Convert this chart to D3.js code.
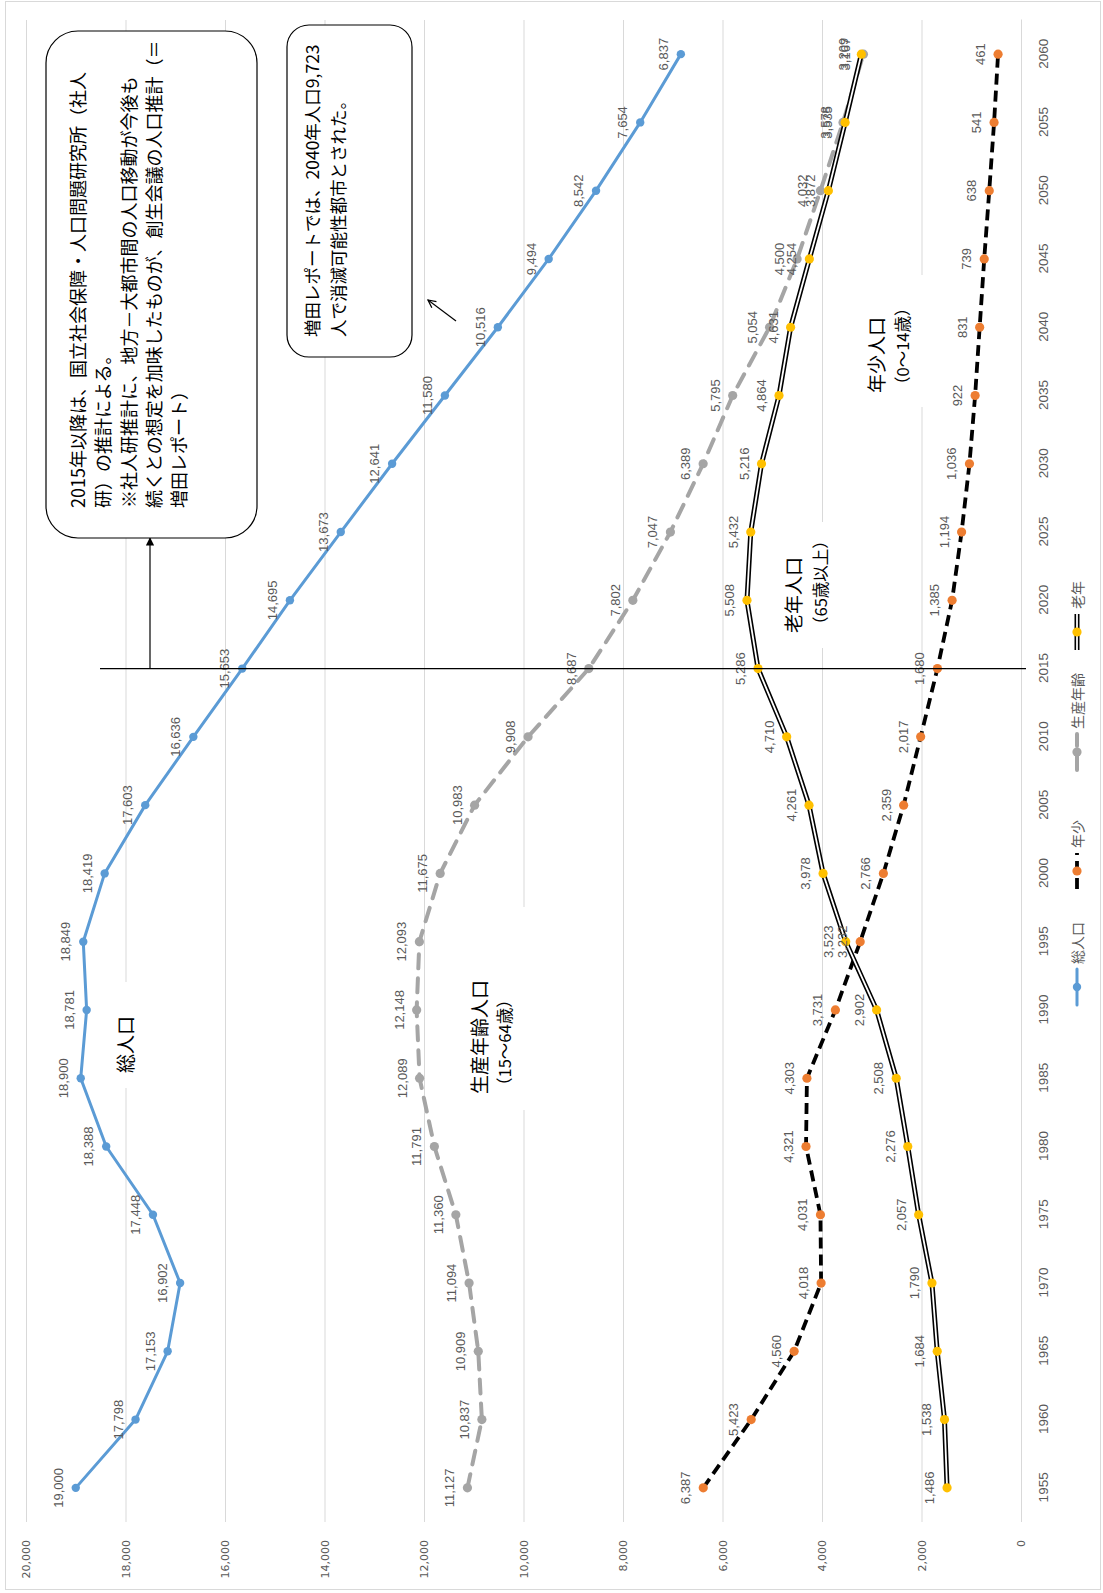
<!DOCTYPE html>
<html>
<head>
<meta charset="utf-8">
<script src="https://cdn.jsdelivr.net/npm/d3@7"></script>
<style>
  body { margin: 0; background: #fff; }
  svg { display: block; }
  .jp { font-family: "Noto Sans CJK JP", "Noto Sans", sans-serif; }
</style>
</head>
<body>
<svg id="chart" width="1103" height="1593"></svg>
<script>
// Population by age group (unit: persons), actual to 2010, projected from 2015
const years = [1955, 1960, 1965, 1970, 1975, 1980, 1985, 1990, 1995, 2000, 2005,
               2010, 2015, 2020, 2025, 2030, 2035, 2040, 2045, 2050, 2055, 2060];
const totalPop = [19000, 17798, 17153, 16902, 17448, 18388, 18900, 18781, 18849, 18419, 17603,
                  16636, 15653, 14695, 13673, 12641, 11580, 10516, 9494, 8542, 7654, 6837];
const youngPop = [6387, 5423, 4560, 4018, 4031, 4321, 4303, 3731, 3232, 2766, 2359,
                  2017, 1680, 1385, 1194, 1036, 922, 831, 739, 638, 541, 461];
const workingPop = [11127, 10837, 10909, 11094, 11360, 11791, 12089, 12148, 12093, 11675, 10983,
                    9908, 8687, 7802, 7047, 6389, 5795, 5054, 4500, 4032, 3578, 3167];
const elderlyPop = [1486, 1538, 1684, 1790, 2057, 2276, 2508, 2902, 3523, 3978, 4261,
                    4710, 5286, 5508, 5432, 5216, 4864, 4631, 4254, 3872, 3535, 3209];
const valueTicks = [0, 2000, 4000, 6000, 8000, 10000, 12000, 14000, 16000, 18000, 20000];
const seriesNames = ["総人口", "年少", "生産年齢", "老年"];

const svg = d3.select("#chart");

// chart frame
svg.append("rect")
  .attr("x", 5.5).attr("y", 1.5).attr("width", 1095).attr("height", 1588)
  .attr("fill", "#fff").attr("stroke", "#d9d9d9");

// The chart is laid out as an ordinary line chart and turned a quarter turn
const plotLen = 1502;   // along the year axis
const plotDepth = 995;  // along the value axis
const g = svg.append("g").attr("transform", "translate(26,1522) rotate(-90)");

const x = d3.scalePoint().domain(years).range([0, plotLen]).padding(0.5);
const y = d3.scaleLinear().domain([0, 20000]).range([plotDepth, 0]);
const fmt = d3.format(",");

// value gridlines + labels
const yAxis = g.append("g")
  .call(d3.axisLeft(y).tickValues(valueTicks).tickSize(-plotLen).tickPadding(18).tickFormat(fmt));
yAxis.select(".domain").remove();
yAxis.selectAll(".tick line").attr("stroke", "#d9d9d9").attr("stroke-width", 1);
yAxis.selectAll(".tick text")
  .attr("fill", "#595959")
  .style("font-family", "'DejaVu Sans', Verdana, sans-serif")
  .style("font-size", "11px");

// year axis
const xAxis = g.append("g").attr("transform", `translate(0,${plotDepth})`)
  .call(d3.axisBottom(x).tickSize(0).tickPadding(17));
xAxis.select(".domain").attr("stroke", "#d9d9d9");
xAxis.selectAll(".tick text")
  .attr("fill", "#595959")
  .style("font-family", "'Liberation Sans Narrow', 'Arial Narrow', 'Liberation Sans', sans-serif")
  .style("font-size", "13.5px");

// white text boxes for the group captions (hide gridlines behind them)
const captionBoxes = [
  { u0: 434, u1: 540, v0: 80, v1: 118 },
  { u0: 412, u1: 615, v0: 440, v1: 506 },
  { u0: 874, u1: 1000, v0: 744, v1: 810 },
  { u0: 1115, u1: 1247, v0: 835, v1: 905 }
];
g.selectAll("rect.capbox").data(captionBoxes).join("rect")
  .attr("class", "capbox")
  .attr("x", d => d.u0).attr("y", d => d.v0)
  .attr("width", d => d.u1 - d.u0).attr("height", d => d.v1 - d.v0)
  .attr("fill", "#fff");

// series
const series = [
  { name: seriesNames[0], values: totalPop, color: "#5B9BD5", kind: "solid", r: 4.2 },
  { name: seriesNames[1], values: youngPop, color: "#ED7D31", kind: "blackdash", r: 4.6 },
  { name: seriesNames[2], values: workingPop, color: "#A5A5A5", kind: "graydash", r: 4.6 },
  { name: seriesNames[3], values: elderlyPop, color: "#FFC000", kind: "double", r: 4.6 }
];

const line = d3.line().x((d, i) => x(years[i])).y(d => y(d));

function strokeLine(sel, kind, color) {
  if (kind === "solid") {
    sel.append("path").attr("fill", "none").attr("stroke", color).attr("stroke-width", 3)
      .attr("stroke-linejoin", "round").attr("stroke-linecap", "round");
  } else if (kind === "blackdash") {
    sel.append("path").attr("fill", "none").attr("stroke", "#000").attr("stroke-width", 3.8)
      .attr("stroke-dasharray", "11,6");
  } else if (kind === "graydash") {
    sel.append("path").attr("fill", "none").attr("stroke", color).attr("stroke-width", 4)
      .attr("stroke-dasharray", "14,10").attr("stroke-linecap", "round");
  } else {
    sel.append("path").attr("fill", "none").attr("stroke", "#000").attr("stroke-width", 5)
      .attr("stroke-linejoin", "round");
    sel.append("path").attr("fill", "none").attr("stroke", "#fff").attr("stroke-width", 1.8)
      .attr("stroke-linejoin", "round");
  }
}

series.forEach(s => {
  const sg = g.append("g");
  strokeLine(sg, s.kind, s.color);
  sg.selectAll("path").attr("d", line(s.values));
  sg.selectAll("circle").data(s.values).join("circle")
    .attr("cx", (d, i) => x(years[i])).attr("cy", d => y(d))
    .attr("r", s.r).attr("fill", s.color);
});

// data labels
series.forEach(s => {
  g.append("g").selectAll("text").data(s.values).join("text")
    .attr("x", (d, i) => x(years[i])).attr("y", d => y(d) - 13)
    .attr("text-anchor", "middle")
    .attr("fill", "#595959")
    .style("font-family", "'Liberation Sans', Arial, sans-serif")
    .style("font-size", "13px")
    .text(d => fmt(d));
});

// 2015 boundary between actual and projected
const u2015 = x(2015);
g.append("line")
  .attr("x1", u2015).attr("x2", u2015).attr("y1", 74).attr("y2", 1000)
  .attr("stroke", "#000").attr("stroke-width", 1.2);

// arrow markers
const defs = svg.append("defs");
defs.append("marker").attr("id", "headFill").attr("viewBox", "0 0 10 10")
  .attr("refX", 9).attr("refY", 5).attr("markerWidth", 7).attr("markerHeight", 7)
  .attr("orient", "auto")
  .append("path").attr("d", "M0,0 L10,5 L0,10 Z").attr("fill", "#000");
defs.append("marker").attr("id", "headOpen").attr("viewBox", "0 0 10 10")
  .attr("refX", 9).attr("refY", 5).attr("markerWidth", 8).attr("markerHeight", 8)
  .attr("orient", "auto")
  .append("path").attr("d", "M1,1 L9,5 L1,9").attr("fill", "none").attr("stroke", "#000").attr("stroke-width", 1.3);

g.append("line")
  .attr("x1", u2015).attr("x2", 984).attr("y1", 124).attr("y2", 124)
  .attr("stroke", "#000").attr("stroke-width", 1.2).attr("marker-end", "url(#headFill)");
g.append("line")
  .attr("x1", 1201).attr("y1", 430).attr("x2", 1222).attr("y2", 402)
  .attr("stroke", "#000").attr("stroke-width", 1.2).attr("marker-end", "url(#headOpen)");

// note boxes
g.append("rect").attr("x", 984).attr("y", 20).attr("width", 507).attr("height", 211)
  .attr("rx", 32).attr("ry", 32).attr("fill", "#fff").attr("stroke", "#000").attr("stroke-width", 1.2);
g.append("rect").attr("x", 1165).attr("y", 261).attr("width", 332).attr("height", 125)
  .attr("rx", 22).attr("ry", 22).attr("fill", "#fff").attr("stroke", "#000").attr("stroke-width", 1.2);

function textLines(lines, u, vs, size) {
  lines.forEach((t, i) => {
    g.append("text").attr("class", "jp")
      .attr("x", u).attr("y", vs[i])
      .attr("dominant-baseline", "central")
      .attr("fill", "#000")
      .style("font-size", (Array.isArray(size) ? size[i] : size) + "px")
      .text(t);
  });
}

textLines([
  "2015年以降は、国立社会保障・人口問題研究所（社人",
  "研）の推計による。",
  "※社人研推計に、地方－大都市間の人口移動が今後も",
  "続くとの想定を加味したものが、創生会議の人口推計（＝",
  "増田レポート）"
], 1014, [51, 76, 101.5, 127, 152], 18);

textLines([
  "増田レポートでは、2040年人口9,723",
  "人で消滅可能性都市とされた。"
], 1185, [285, 311], 17.5);

// group captions
textLines(["総人口"], 449, [98], 19);
textLines(["生産年齢人口", "（15～64歳）"], 428, [452, 478], [19, 16.5]);
textLines(["老年人口", "（65歳以上）"], 889, [766, 794], [19, 16.5]);
textLines(["年少人口", "（0～14歳）"], 1129, [849, 876], [19, 16.5]);

// legend
const legendItems = [
  { s: series[0], u: 517 },
  { s: series[1], u: 633 },
  { s: series[2], u: 752 },
  { s: series[3], u: 872 }
];
const legV = 1051;
legendItems.forEach(item => {
  const lg = g.append("g");
  strokeLine(lg, item.s.kind, item.s.color);
  lg.selectAll("path").attr("d", `M${item.u},${legV}L${item.u + 36},${legV}`);
  lg.append("circle").attr("cx", item.u + 18).attr("cy", legV).attr("r", item.s.r).attr("fill", item.s.color);
  lg.append("text").attr("class", "jp")
    .attr("x", item.u + 41).attr("y", legV)
    .attr("dominant-baseline", "central")
    .attr("fill", "#595959")
    .style("font-size", "14px")
    .text(item.s.name);
});
</script>
</body>
</html>
